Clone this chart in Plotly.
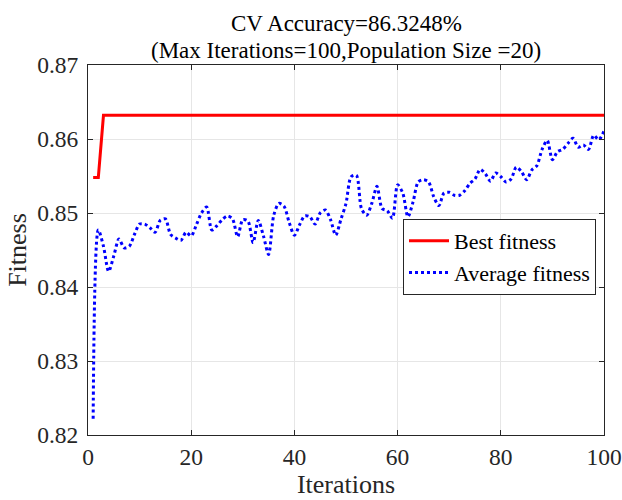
import plotly.graph_objects as go

iterations = list(range(1, 101))

best_fitness = [0.8548, 0.8548] + [0.8632] * 98

avg_fitness = [
    0.8222, 0.8477, 0.8455, 0.8421, 0.8442, 0.8465, 0.8453, 0.8455, 0.8471, 0.8485,
    0.8485, 0.8480, 0.8474, 0.8490, 0.8492, 0.8471, 0.8466, 0.8463, 0.8474, 0.8469,
    0.8484, 0.8500, 0.8508, 0.8477, 0.8483, 0.8491, 0.8496, 0.8492, 0.8468, 0.8491,
    0.8489, 0.8460, 0.8490, 0.8469, 0.8444, 0.8497, 0.8513, 0.8509, 0.8487, 0.8470,
    0.8484, 0.8496, 0.8495, 0.8485, 0.8500, 0.8504, 0.8491, 0.8470, 0.8491, 0.8513,
    0.8549, 0.8551, 0.8506, 0.8497, 0.8513, 0.8536, 0.8506, 0.8503, 0.8493, 0.8538,
    0.8527, 0.8495, 0.8515, 0.8542, 0.8545, 0.8542, 0.8522, 0.8510, 0.8527, 0.8528,
    0.8524, 0.8524, 0.8530, 0.8540, 0.8546, 0.8559, 0.8553, 0.8543, 0.8554, 0.8549,
    0.8542, 0.8546, 0.8562, 0.8556, 0.8545, 0.8558, 0.8564, 0.8586, 0.8598, 0.8572,
    0.8583, 0.8586, 0.8594, 0.8601, 0.8589, 0.8592, 0.8586, 0.8605, 0.8599, 0.8611,
]

x_ticks = [0, 20, 40, 60, 80, 100]
y_ticks = [0.82, 0.83, 0.84, 0.85, 0.86, 0.87]

title_lines = ["CV Accuracy=86.3248%", "(Max Iterations=100,Population Size =20)"]

FONT = "Liberation Serif, Times New Roman, serif"

# plot area in pixels
L, R, T, B = 88, 604, 65, 435
W, H = 622, 500

fig = go.Figure()
fig.add_trace(go.Scatter(
    x=iterations, y=best_fitness, mode="lines", name="Best fitness",
    line=dict(color="#ff0000", width=3),
))
fig.add_trace(go.Scatter(
    x=iterations, y=avg_fitness, mode="lines", name="Average fitness",
    line=dict(color="#0000ff", width=3, dash="dot", shape="spline", smoothing=0.8),
))

axis_common = dict(
    showline=True, linecolor="#262626", linewidth=1, mirror="ticks",
    ticks="inside", ticklen=5, tickcolor="#262626",
    showgrid=True, gridcolor="#e6e6e6", gridwidth=1, zeroline=False,
    automargin=False,
    tickfont=dict(family=FONT, size=23.5, color="#262626"),
)

title_px = [23, 51]
annotations = [
    dict(text=t, xref="paper", yref="paper", x=0.5, y=(B - py) / (B - T),
         xanchor="center", yanchor="middle", showarrow=False,
         font=dict(family=FONT, size=23, color="#000000"))
    for t, py in zip(title_lines, title_px)
]

fig.update_layout(
    width=W, height=H,
    margin=dict(l=L, r=W - R, t=T, b=H - B),
    paper_bgcolor="white", plot_bgcolor="white",
    font=dict(family=FONT, color="#262626"),
    annotations=annotations,
    xaxis=dict(
        range=[0, 100], tickvals=x_ticks, ticklabelstandoff=1,
        title=dict(text="Iterations", font=dict(family=FONT, size=26, color="#262626"), standoff=5),
        **axis_common,
    ),
    yaxis=dict(
        range=[0.82, 0.87], tickvals=y_ticks, tickformat=".2f", ticklabelstandoff=4,
        title=dict(text="Fitness", font=dict(family=FONT, size=26, color="#262626"), standoff=3),
        **axis_common,
    ),
    legend=dict(
        x=(403 - L) / (R - L), y=(B - 219) / (B - T), xanchor="left", yanchor="top",
        bgcolor="white", bordercolor="#262626", borderwidth=1,
        font=dict(family=FONT, size=22, color="#000000"),
        itemwidth=40, tracegroupgap=0,
    ),
    showlegend=True,
)

fig.write_html("out.html")
